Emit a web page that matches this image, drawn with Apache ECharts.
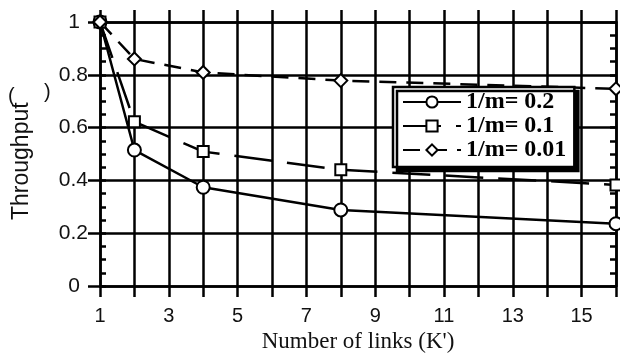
<!DOCTYPE html>
<html>
<head>
<meta charset="utf-8">
<script src="https://cdn.jsdelivr.net/npm/echarts@6/dist/echarts.min.js"></script>
<style>
  html, body { margin: 0; padding: 0; background: #fff; }
  #chart { width: 620px; height: 353px; }
</style>
</head>
<body>
<div id="chart"></div>
<script>
// Number of links K'
const links = [1, 2, 4, 8, 16];
// Throughput for each value of 1/m
const thr02 = [1, 0.515, 0.374, 0.288, 0.236];
const thr01 = [1, 0.622, 0.509, 0.44, 0.383];
const thr001 = [1, 0.86, 0.809, 0.778, 0.747];
const seriesNames = ['1/m= 0.2', '1/m= 0.1', '1/m= 0.01'];
const yTicks = [0, 0.2, 0.4, 0.6, 0.8, 1];

const pair = (ys) => links.map((x, i) => [x, ys[i]]);
const black = '#000';
const ink = '#111';
const sans = 'Liberation Sans';
const serif = 'Liberation Serif';
const lw = 2.5;

const chart = echarts.init(document.getElementById('chart'), null, { renderer: 'canvas' });

const gridRect = { left: 100, right: 4, top: 22, bottom: 67, outerBoundsMode: 'none', containLabel: false };

const option = {
  animation: false,
  backgroundColor: '#fff',
  grid: [
    Object.assign({}, gridRect),
    Object.assign({}, gridRect)
  ],
  xAxis: [
    {
      type: 'value', gridIndex: 0, position: 'bottom',
      min: 1, max: 16, interval: 1,
      axisLine: { show: true, onZero: false, lineStyle: { color: black, width: lw } },
      axisTick: { show: true, inside: false, length: 11, lineStyle: { color: black, width: lw } },
      axisLabel: {
        margin: 20, color: ink, fontFamily: sans, fontSize: 20,
        formatter: (v) => (v % 2 === 1 ? String(v) : '')
      },
      splitLine: { show: true, lineStyle: { color: black, width: lw } },
      name: "Number of links (K')", nameLocation: 'middle', nameGap: 42,
      nameTextStyle: { fontFamily: serif, fontSize: 23, color: ink }
    },
    {
      type: 'value', gridIndex: 0, position: 'top',
      min: 1, max: 16, interval: 1,
      axisLine: { show: true, onZero: false, lineStyle: { color: black, width: lw } },
      axisTick: { show: true, inside: false, length: 12, lineStyle: { color: black, width: lw } },
      axisLabel: { show: false },
      splitLine: { show: false }
    },
    {
      type: 'value', gridIndex: 1, min: 1, max: 16, show: false
    }
  ],
  yAxis: [
    {
      type: 'value', gridIndex: 0, position: 'left',
      min: 0, max: 1, interval: 0.2,
      axisLine: { show: true, onZero: false, lineStyle: { color: black, width: lw } },
      axisTick: { show: true, inside: true, length: 6, lineStyle: { color: black, width: lw } },
      minorTick: { show: true, splitNumber: 4, length: 6, lineStyle: { color: black, width: lw } },
      axisLabel: {
        margin: 12, color: ink, fontFamily: sans, fontSize: 21,
        formatter: (v) => {
          const t = yTicks.find((k) => Math.abs(k - v) < 1e-9);
          const s = String(+t.toFixed(1));
          return s.length === 1 ? '{n|' + s + '}' : s;
        },
        rich: { n: { fontFamily: sans, fontSize: 21, color: ink, padding: [0, 8, 0, 0] } }
      },
      splitLine: { show: true, lineStyle: { color: black, width: lw } }
    },
    {
      type: 'value', gridIndex: 0, position: 'right',
      min: 0, max: 1, interval: 0.2,
      axisLine: { show: true, onZero: false, lineStyle: { color: black, width: lw } },
      axisTick: { show: true, inside: true, length: 6, lineStyle: { color: black, width: lw } },
      minorTick: { show: true, splitNumber: 4, length: 6, lineStyle: { color: black, width: lw } },
      axisLabel: { show: false },
      splitLine: { show: false }
    },
    {
      type: 'value', gridIndex: 1, position: 'left',
      min: 0, max: 1, interval: 0.2,
      axisLine: { show: false, onZero: false },
      axisTick: { show: true, inside: false, length: 12, lineStyle: { color: black, width: lw } },
      axisLabel: { show: false },
      splitLine: { show: false }
    }
  ],
  legend: {
    orient: 'vertical', left: 393, top: 87,
    data: seriesNames,
    itemWidth: 58, itemHeight: 14, itemGap: 0,
    padding: [3, 8, 5, 9],
    backgroundColor: '#fff', borderColor: black, borderWidth: 2.5, borderRadius: 0,
    shadowColor: black, shadowBlur: 0, shadowOffsetX: 4, shadowOffsetY: 4,
    textStyle: { fontFamily: serif, fontWeight: 'bold', fontSize: 24, lineHeight: 24, color: black }
  },
  graphic: [
    {
      type: 'text', rotation: Math.PI / 2,
      style: { text: 'Throughput', fontFamily: sans, fontSize: 23, fill: ink },
      x: 10, y: 220
    },
    { type: 'text', x: 8, y: 86, style: { text: '(', fontFamily: sans, fontSize: 20, fill: ink } },
    { type: 'text', x: 44, y: 82, style: { text: ')', fontFamily: sans, fontSize: 20, fill: ink } }
  ],
  series: [
    {
      name: seriesNames[0], type: 'line', xAxisIndex: 0, yAxisIndex: 0,
      data: pair(thr02),
      symbol: 'emptyCircle', symbolSize: 13,
      lineStyle: { color: black, width: lw, type: 'solid' },
      itemStyle: { color: black, borderColor: black, borderWidth: lw }
    },
    {
      name: seriesNames[1], type: 'line', xAxisIndex: 0, yAxisIndex: 0,
      data: pair(thr01),
      symbol: 'emptyRect', symbolSize: 11,
      lineStyle: { color: black, width: lw, type: [38, 15] },
      itemStyle: { color: black, borderColor: black, borderWidth: lw }
    },
    {
      name: seriesNames[2], type: 'line', xAxisIndex: 0, yAxisIndex: 0,
      data: pair(thr001),
      symbol: 'emptyDiamond', symbolSize: 13,
      lineStyle: { color: black, width: lw, type: [17, 10] },
      itemStyle: { color: black, borderColor: black, borderWidth: lw }
    }
  ]
};

chart.setOption(option);
</script>
</body>
</html>
